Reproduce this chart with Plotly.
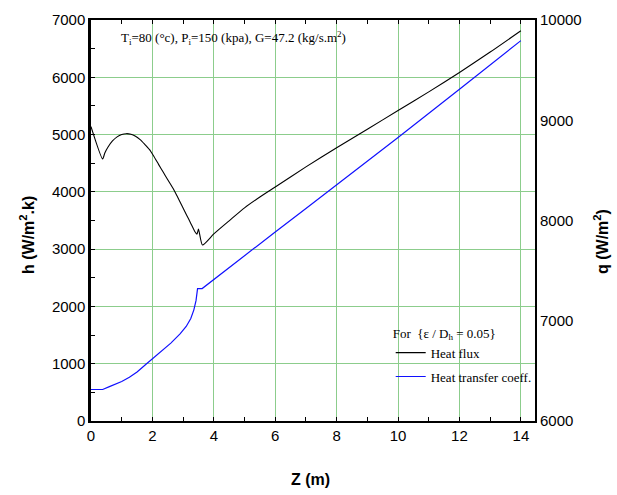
import plotly.graph_objects as go

# Heat flux q (W/m^2), right axis
z_q = [0.0, 0.38, 0.45, 0.55, 0.7, 0.85, 1.0, 1.15, 1.3, 1.45, 1.6, 1.75, 1.9, 2.03,
       2.2, 2.35, 2.5, 2.68, 2.8, 2.95, 3.12, 3.25, 3.38, 3.45, 3.5, 3.63,
       4.0, 4.5, 5.0, 5.5, 6.0, 7.0, 8.0, 9.0, 10.0, 11.0, 12.0, 13.0, 14.0]
q = [8937, 8614, 8674, 8731, 8794, 8834, 8857, 8866, 8860, 8840, 8807, 8760, 8709, 8648,
     8560, 8483, 8406, 8317, 8246, 8154, 8051, 7971, 7891, 7863, 7914, 7756,
     7866, 7997, 8126, 8234, 8334, 8535, 8726, 8911, 9097, 9283, 9477, 9680, 9893]

# Heat transfer coefficient h (W/m^2.K), left axis
z_h = [0.0, 0.38, 0.6, 0.8, 1.0, 1.25, 1.5, 1.81, 2.0, 2.3, 2.6, 2.9, 3.1, 3.25, 3.35,
       3.42, 3.47, 3.62, 5.0, 6.0, 7.0, 8.0, 10.0, 12.0, 14.0]
h = [550, 550, 600, 645, 690, 765, 855, 1000, 1085, 1215, 1360, 1520, 1650, 1790, 1940,
     2100, 2312, 2312, 2890, 3300, 3710, 4120, 4950, 5790, 6640]

x_ticks = [0, 2, 4, 6, 8, 10, 12, 14]
y_ticks = [0, 1000, 2000, 3000, 4000, 5000, 6000, 7000]
y2_ticks = [6000, 7000, 8000, 9000, 10000]

grid_col = "#8ccd8c"
tick_font = dict(family="Liberation Sans", size=15, color="black")
title_font = dict(family="Liberation Sans", size=16, color="black")

fig = go.Figure()
fig.add_trace(go.Scatter(x=z_q, y=q, mode="lines", name="Heat flux", legendgroup="a",
                         line=dict(color="black", width=1.1, shape="spline", smoothing=0.6),
                         yaxis="y2"))
fig.add_trace(go.Scatter(x=z_h, y=h, mode="lines", name="Heat transfer coeff.", legendgroup="b",
                         line=dict(color="#1010ff", width=1.2), yaxis="y"))

fig.update_layout(
    width=617, height=495,
    margin=dict(l=91, r=82, t=20, b=74, autoexpand=False),
    paper_bgcolor="white", plot_bgcolor="white",
    showlegend=True,
    legend=dict(
        title=dict(text="For  {ε / D<sub>h</sub> = 0.05}",
                   font=dict(family="Liberation Serif", size=13, color="black")),
        font=dict(family="Liberation Serif", size=13, color="black"),
        x=0.675, y=0.25, xanchor="left", yanchor="top",
        bgcolor="rgba(0,0,0,0)", itemwidth=30, tracegroupgap=4,
    ),
    xaxis=dict(
        range=[0, 14.46], tickvals=x_ticks, ticktext=[str(v) for v in x_ticks],
        showgrid=True, gridcolor=grid_col, gridwidth=1,
        showline=True, linecolor="black", linewidth=2, mirror="allticks",
        ticks="inside", ticklen=4, tickcolor="black", tickfont=tick_font,
        minor=dict(dtick=1, tick0=0, ticks="inside", ticklen=4, tickcolor="black", showgrid=False),
        zeroline=False, automargin=False,
    ),
    yaxis=dict(
        range=[0, 7000], tickvals=y_ticks, ticktext=[str(v) for v in y_ticks],
        showgrid=True, gridcolor=grid_col, gridwidth=1,
        showline=True, linecolor="black", linewidth=2.5,
        ticks="inside", ticklen=4, tickcolor="black", tickfont=tick_font,
        minor=dict(dtick=500, tick0=0, ticks="inside", ticklen=4, tickcolor="black", showgrid=False),
        zeroline=False, automargin=False,
    ),
    yaxis2=dict(
        range=[6000, 10000], tickvals=y2_ticks, ticktext=[str(v) for v in y2_ticks],
        overlaying="y", side="right", showgrid=False,
        showline=True, linecolor="black", linewidth=2,
        ticks="", tickfont=tick_font, zeroline=False, automargin=False,
    ),
    annotations=[
        dict(text="T<sub>i</sub>=80 (°c), P<sub>i</sub>=150 (kpa), G=47.2 (kg/s.m<sup>2</sup>)",
             xref="paper", yref="paper", x=0.063, y=0.955, xanchor="left", yanchor="middle",
             showarrow=False, font=dict(family="Liberation Serif", size=13, color="black")),
        dict(text="<b>Z (m)</b>", xref="paper", yref="paper", x=(310 - 91) / 444, y=-(479 - 421) / 401,
             xanchor="center", yanchor="middle", showarrow=False, font=title_font),
        dict(text="<b>h (W/m<sup>2</sup>.k)</b>", xref="paper", yref="paper",
             x=(27 - 91) / 444, y=(421 - 235) / 401, xanchor="center", yanchor="middle",
             textangle=-90, showarrow=False, font=title_font),
        dict(text="<b>q (W/m<sup>2</sup>)</b>", xref="paper", yref="paper",
             x=(601 - 91) / 444, y=(421 - 242) / 401, xanchor="center", yanchor="middle",
             textangle=-90, showarrow=False, font=title_font),
    ],
)

fig.write_html("out.html", config={"displayModeBar": False},
               post_script="document.body.style.margin='0';")
